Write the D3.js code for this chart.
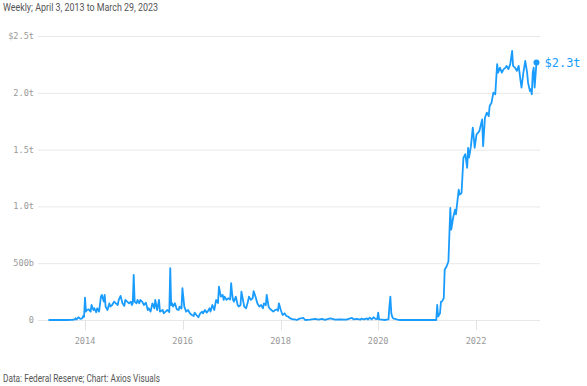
<!DOCTYPE html>
<html>
<head>
<meta charset="utf-8">
<script src="https://cdn.jsdelivr.net/npm/d3@7"></script>
<style>
  html, body { margin: 0; padding: 0; background: #ffffff; }
  svg { display: block; }
</style>
</head>
<body>
<div id="chart"></div>
<script>
// ---- Data (billions of dollars, weekly, week index counted from April 3, 2013) ----
const startDate = "2013-04-03";
const weeks = [0,20,24,26,28,29,30,32,34,36,37,38,39,40,41,43,45,46,48,49,51,52,54,56,57,59,60,61,63,65,66,68,70,72,74,75,77,79,81,82,84,86,88,89,90,91,92,94,95,97,98,100,102,104,106,107,109,111,113,114,116,118,119,122,123,125,127,129,130,131,132,133,135,137,139,140,142,143,145,147,149,151,153,155,156,158,160,162,164,165,167,169,171,172,173,175,177,179,180,181,182,184,186,187,188,190,192,194,195,196,197,198,200,202,203,205,206,207,209,211,213,214,216,218,219,221,223,225,227,229,230,232,233,235,236,238,240,242,244,245,246,248,250,252,254,256,258,259,261,263,265,268,272,274,279,285,288,292,295,301,306,311,318,324,326,329,333,334,337,340,341,343,345,347,349,351,352,353,356,359,361,363,364,365,366,367,368,370,374,414,415,416,418,419,420,422,423,425,427,429,430,432,434,435,438,439,441,443,445,447,448,449,451,453,455,457,460,463,464,466,468,470,471,473,475,477,479,480,482,484,486,488,489,491,493,495,496,498,500,502,504,505,507,509,511,512,514,515,516,517,518,519,521];
const values = [0,0,1,2,5,15,4,24,10,14,35,28,197,74,88,94,74,132,88,103,68,103,74,206,221,162,221,118,88,147,118,132,162,147,132,177,212,147,124,177,162,147,162,132,150,397,162,147,177,147,177,162,132,153,88,103,74,147,103,177,88,177,74,88,59,74,88,70,456,130,147,118,147,94,88,118,100,280,118,74,88,59,44,35,65,44,24,59,74,59,88,65,88,103,74,132,88,177,162,150,294,206,221,177,206,177,191,180,324,235,177,162,206,132,118,130,250,206,118,103,162,206,177,191,255,206,147,118,132,103,147,130,221,118,103,88,74,88,94,80,147,88,44,59,35,29,15,12,6,6,0,12,18,0,3,9,3,9,2,15,3,6,3,18,5,9,3,12,5,15,4,21,6,24,10,8,65,6,3,0,3,5,120,206,60,29,15,9,0,0,132,30,59,160,162,191,442,471,515,986,795,900,971,930,1148,1104,1118,1428,1460,1340,1516,1430,1530,1693,1516,1633,1663,1766,1530,1780,1825,1795,1884,1913,2002,1987,2252,2178,2222,2178,2208,2222,2237,2208,2252,2369,2237,2222,2193,2237,2104,2046,2178,2281,2178,2090,2016,2031,1987,2178,2222,2046,2266];
const yTicks = [0, 500, 1000, 1500, 2000, 2500];
const yTickLabels = ["0", "500b", "1.0t", "1.5t", "2.0t", "$2.5t"];
const xTickYears = [2014, 2016, 2018, 2020, 2022];
const titleText = "Weekly; April 3, 2013 to March 29, 2023";
const sourceText = "Data: Federal Reserve; Chart: Axios Visuals";
const endLabel = "$2.3t";

// ---- Chart ----
const W = 587, H = 386;
const blue = "#1a9cff";
const parse = d3.timeParse("%Y-%m-%d");
const t0 = parse(startDate);
const data = weeks.map((w, i) => ({ date: d3.timeWeek.offset(t0, w), v: values[i] }));

const svg = d3.select("#chart").append("svg").attr("width", W).attr("height", H);

const x = d3.scaleTime()
  .domain([parse("2014-01-01"), parse("2022-01-01")])
  .range([85, 476]);
const y = d3.scaleLinear().domain([0, 2500]).range([320, 36]);

// Title
svg.append("text")
  .attr("x", 3).attr("y", 11)
  .attr("font-family", "Roboto, 'Liberation Sans', sans-serif")
  .attr("font-size", 10.5)
  .attr("fill", "#555")
  .attr("textLength", 155).attr("lengthAdjust", "spacingAndGlyphs")
  .text(titleText);

// Gridlines + y labels
const yg = svg.append("g");
yg.selectAll("line").data(yTicks).join("line")
  .attr("x1", 38).attr("x2", 540)
  .attr("y1", d => y(d) + 0.5).attr("y2", d => y(d) + 0.5)
  .attr("stroke", "#e8e8e8").attr("stroke-width", 1);
yg.selectAll("text").data(yTicks).join("text")
  .attr("x", 34).attr("y", d => y(d))
  .attr("dy", "0.35em")
  .attr("text-anchor", "end")
  .attr("font-family", "'DejaVu Sans Mono', 'Liberation Mono', monospace")
  .attr("font-size", 8.6)
  .attr("fill", "#999")
  .text((d, i) => yTickLabels[i]);

// X axis ticks
const xDates = xTickYears.map(yr => new Date(yr, 0, 1));
const xg = svg.append("g");
xg.selectAll("line").data(xDates).join("line")
  .attr("x1", d => Math.round(x(d)) + 0.5).attr("x2", d => Math.round(x(d)) + 0.5)
  .attr("y1", 320).attr("y2", 330)
  .attr("stroke", "#e3e3e3").attr("stroke-width", 1);
xg.selectAll("text").data(xDates).join("text")
  .attr("x", d => x(d)).attr("y", 341)
  .attr("dy", "0.35em")
  .attr("text-anchor", "middle")
  .attr("font-family", "'DejaVu Sans Mono', 'Liberation Mono', monospace")
  .attr("font-size", 8.6)
  .attr("fill", "#999")
  .text(d => d3.timeFormat("%Y")(d));

// Line
const line = d3.line().x(d => x(d.date)).y(d => y(d.v)).curve(d3.curveLinear);
svg.append("path").datum(data)
  .attr("d", line)
  .attr("fill", "none")
  .attr("stroke", blue)
  .attr("stroke-width", 1.8)
  .attr("stroke-linejoin", "round");

// End point + label
const last = data[data.length - 1];
svg.append("circle")
  .attr("cx", x(last.date)).attr("cy", y(last.v))
  .attr("r", 3).attr("fill", blue);
svg.append("text")
  .attr("x", x(last.date) + 8).attr("y", y(last.v))
  .attr("dy", "0.35em")
  .attr("font-family", "'DejaVu Sans Mono', 'Liberation Mono', monospace")
  .attr("font-size", 12)
  .attr("fill", blue)
  .text(endLabel);

// Source
svg.append("text")
  .attr("x", 3).attr("y", 382)
  .attr("font-family", "Roboto, 'Liberation Sans', sans-serif")
  .attr("font-size", 10.5)
  .attr("fill", "#555")
  .attr("textLength", 157).attr("lengthAdjust", "spacingAndGlyphs")
  .text(sourceText);
</script>
</body>
</html>
